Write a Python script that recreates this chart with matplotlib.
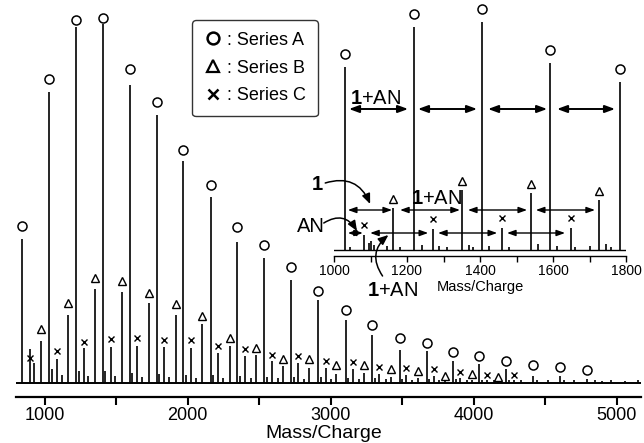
import matplotlib.pyplot as plt
from matplotlib.lines import Line2D
from matplotlib.ticker import MultipleLocator

plt.rcParams['font.family'] = ['Liberation Sans', 'DejaVu Sans']
plt.rcParams['mathtext.fontset'] = 'custom'
plt.rcParams['mathtext.rm'] = 'Liberation Sans'
plt.rcParams['mathtext.bf'] = 'Liberation Sans:bold'

# main spectrum (relative intensity), series peaks and where their symbols sit
a_mz = [844, 1032, 1220, 1406, 1595, 1784, 1971, 2160, 2348, 2537, 2726, 2914,
        3104, 3290, 3482, 3672, 3855, 4040, 4225, 4412, 4603, 4790]
a_int = [144, 291, 356, 359, 298, 268, 222, 186, 141, 125, 103, 83,
         63, 48, 33, 32, 22, 19, 14, 7, 7, 4]
a_mark = [157, 304, 363, 365, 314, 281, 233, 198, 156, 138, 116, 92,
          73, 58, 45, 40, 31, 27, 22, 18, 16, 13]

b_mz = [976, 1163, 1352, 1540, 1729, 1916, 2102, 2295, 2481, 2668, 2852, 3040,
        3233, 3423, 3612, 3800, 3987, 4172]
b_int = [42, 68, 94, 91, 80, 68, 59, 37, 28, 17, 15, 9, 10, 6, 5, 3, 3, 2]
b_mark = [54, 80, 105, 102, 90, 79, 67, 45, 35, 24, 24, 18, 18, 14, 12, 7, 9, 6]

c_mz = [898, 1087, 1275, 1461, 1648, 1836, 2025, 2212, 2399, 2588, 2775, 2965,
        3155, 3340, 3530, 3720, 3906, 4091, 4281]
c_int = [34, 24, 35, 36, 37, 36, 35, 30, 27, 22, 20, 15, 14, 9, 8, 7, 5, 3, 3]
c_mark = [25, 32, 41, 44, 45, 43, 43, 37, 34, 28, 27, 22, 21, 16, 15, 14, 11, 8, 8]

minor_mz = [925, 1050, 1120, 1240, 1300, 1425, 1490, 1612, 1680, 1800, 1870,
            1990, 2060, 2178, 2250, 2368, 2440, 2556, 2630, 2745, 2815, 2932,
            3005, 3122, 3195, 3308, 3385, 3500, 3570, 3690, 3760, 3875, 3950,
            4060, 4140, 4245, 4330, 4440, 4520, 4630, 4700, 4850, 4900, 4960,
            5060, 5150]
minor_int = [20, 14, 8, 12, 7, 12, 7, 10, 6, 9, 6, 8, 5, 8, 5, 7, 5, 6, 5, 6,
             4, 6, 4, 5, 4, 5, 4, 4, 3, 4, 3, 4, 3, 3, 3, 3, 3, 3, 3, 3, 3,
             3, 2, 3, 2, 3]

# inset (zoom 1000-1800)
ia_mz = [1030, 1220, 1406, 1593, 1784]
ia_int = [183, 223, 228, 187, 168]
ib_mz = [1162, 1351, 1540, 1726]
ib_int = [42, 60, 57, 50]
ic_mz = [1083, 1272, 1459, 1648]
ic_int = [15, 21, 22, 22]
iminor_mz = [1045, 1095, 1102, 1110, 1145, 1180, 1240, 1288, 1310, 1370, 1382,
             1425, 1480, 1560, 1610, 1660, 1700, 1745, 1760]
iminor_int = [3, 7, 9, 5, 4, 3, 5, 4, 3, 5, 3, 4, 3, 6, 4, 3, 4, 6, 3]

fig = plt.figure(figsize=(6.44, 4.43), dpi=100)
W, H = 644, 443

ax = fig.add_axes([16 / W, 1 - 397 / H, 625 / W, 397 / H])
ax.set_facecolor('none')
ax.vlines(a_mz + b_mz + c_mz + minor_mz, 0, a_int + b_int + c_int + minor_int,
          color='black', lw=1.2)
ax.plot([800, 5170], [0, 0], color='black', lw=1.4)
ax.plot(a_mz, a_mark, 'o', ms=6.5, mfc='none', mec='black', mew=1.1)
ax.plot(b_mz, b_mark, '^', ms=6, mfc='none', mec='black', mew=1.0)
ax.plot(c_mz, c_mark, 'x', ms=5, mec='black', mew=1.0)
ax.set_xlim(800, 5170)
ax.set_ylim(-14, 383)
for s in ['left', 'right', 'top']:
    ax.spines[s].set_visible(False)
ax.spines['bottom'].set_linewidth(1.6)
ax.set_yticks([])
ax.xaxis.set_major_locator(MultipleLocator(1000))
ax.xaxis.set_minor_locator(MultipleLocator(500))
ax.tick_params(axis='x', which='both', direction='out', length=6, width=1.5,
               labelsize=13, pad=1.5)
fig.text(324 / W, 1 - 433 / H, 'Mass/Charge', fontsize=14, ha='center', va='center')

handles = [Line2D([], [], ls='none', marker='o', ms=8.5, mfc='none', mec='black', mew=1.8),
           Line2D([], [], ls='none', marker='^', ms=8.5, mfc='none', mec='black', mew=1.6),
           Line2D([], [], ls='none', marker='x', ms=6.5, mec='black', mew=1.8)]
leg = ax.legend(handles, [': Series A', ': Series B', ': Series C'],
                loc='upper left', bbox_to_anchor=(192 / W, 1 - 20 / H),
                bbox_transform=fig.transFigure, fontsize=13, frameon=True,
                fancybox=True, edgecolor='black', handlelength=1.0,
                handletextpad=0.3, labelspacing=0.6, borderpad=0.65,
                borderaxespad=0)
leg.get_frame().set_linewidth(1.0)

# inset
ins = fig.add_axes([334 / W, 1 - 256 / H, 292 / W, 256 / H])
ins.set_facecolor('none')
ins.vlines(ia_mz + ib_mz + ic_mz + iminor_mz, 0, ia_int + ib_int + ic_int + iminor_int,
           color='black', lw=1.2)
ins.plot([1000, 1800], [0, 0], color='black', lw=1.0)
ins.plot(ia_mz, [v + 13 for v in ia_int], 'o', ms=6.5, mfc='none', mec='black', mew=1.1)
ins.plot(ib_mz, [v + 9 for v in ib_int], '^', ms=6, mfc='none', mec='black', mew=1.0)
ins.plot(ic_mz, [v + 10 for v in ic_int], 'x', ms=5, mec='black', mew=1.0)
ins.set_xlim(1000, 1800)
ins.set_ylim(-6, 250)
for s in ['left', 'right', 'top']:
    ins.spines[s].set_visible(False)
ins.spines['bottom'].set_linewidth(1.0)
ins.set_yticks([])
ins.xaxis.set_major_locator(MultipleLocator(200))
ins.xaxis.set_minor_locator(MultipleLocator(100))
ins.tick_params(axis='x', which='both', direction='out', length=4, width=1,
                labelsize=10, pad=2)
ins.set_xlabel('Mass/Charge', fontsize=10.5, labelpad=1)

thick = dict(arrowstyle='<|-|>,head_length=0.6,head_width=0.22', color='black',
             lw=1.4, shrinkA=0, shrinkB=0)
thin = dict(arrowstyle='<|-|>,head_length=0.5,head_width=0.18', color='black',
            lw=1.0, shrinkA=0, shrinkB=0)
row1 = [(1041, 1203), (1230, 1392), (1422, 1584), (1611, 1770)]
row2 = [(1038, 1159), (1181, 1345), (1367, 1529), (1553, 1715)]
row3 = [(1038, 1079), (1099, 1258), (1285, 1447), (1474, 1633)]
for x0, x1 in row1:
    ins.annotate('', xy=(x1, 141), xytext=(x0, 141), arrowprops=thick)
for x0, x1 in row2:
    ins.annotate('', xy=(x1, 40), xytext=(x0, 40), arrowprops=thin)
for x0, x1 in row3:
    ins.annotate('', xy=(x1, 17), xytext=(x0, 17), arrowprops=thin)

lbl = r'$\mathbf{1}$+AN'
ins.text(1113, 152, lbl, fontsize=14.5, ha='center', va='center')
ins.text(1282, 51, lbl, fontsize=14.5, ha='center', va='center')
ins.text(1160, -40, lbl, fontsize=14.5, ha='center', va='center', clip_on=False)
ins.text(954, 66, '1', fontsize=14.5, fontweight='bold', ha='center', va='center',
         clip_on=False)
ins.text(936, 23, 'AN', fontsize=14.5, ha='center', va='center', clip_on=False)

curve = dict(arrowstyle='-|>,head_length=0.6,head_width=0.25', color='black',
             lw=1.1, shrinkA=0, shrinkB=0)
ins.annotate('', xy=(1099, 46), xytext=(976, 67),
             arrowprops=dict(curve, connectionstyle='arc3,rad=-0.45'),
             annotation_clip=False)
ins.annotate('', xy=(1063, 19), xytext=(972, 27),
             arrowprops=dict(curve, connectionstyle='arc3,rad=-0.5'),
             annotation_clip=False)
ins.annotate('', xy=(1149, 15), xytext=(1133, -26),
             arrowprops=dict(curve, connectionstyle='arc3,rad=-0.45'),
             annotation_clip=False)

fig.savefig('out.png', dpi=100)
